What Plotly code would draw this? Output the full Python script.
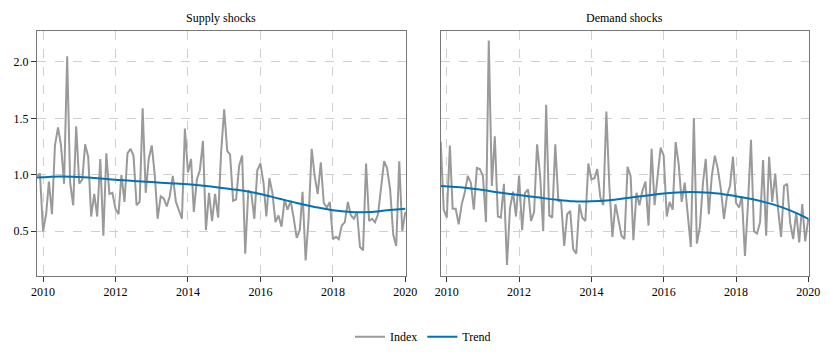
import pandas as pd
import plotly.graph_objects as go
from plotly.subplots import make_subplots

# monthly index, Nov 2009 - Jan 2020
months = pd.date_range("2009-11-01", periods=123, freq="MS")

supply_index = [
    0.99, 1.01, 0.50, 0.65, 0.94, 0.65, 1.26, 1.42, 1.26, 0.92,
    2.05, 0.93, 0.73, 1.43, 0.92, 0.96, 1.27, 1.16, 0.63, 0.83,
    0.63, 1.14, 0.46, 1.19, 0.83, 0.84, 0.70, 0.65, 1.00, 0.76,
    1.19, 1.23, 1.17, 0.73, 0.76, 1.59, 0.84, 1.14, 1.26, 0.99,
    0.61, 0.81, 0.79, 0.72, 0.81, 0.99, 0.76, 0.69, 0.61, 1.41,
    1.02, 1.14, 0.67, 0.96, 1.04, 1.30, 0.51, 0.84, 0.59, 0.83,
    0.62, 1.20, 1.58, 1.21, 1.18, 0.77, 0.78, 1.08, 1.17, 0.30,
    0.86, 0.84, 0.61, 1.04, 1.10, 0.93, 0.63, 0.97, 0.84, 0.58,
    0.64, 0.54, 0.78, 0.69, 0.77, 0.62, 0.44, 0.51, 0.85, 0.24,
    0.61, 1.23, 0.99, 0.83, 1.11, 0.75, 0.71, 0.76, 0.43, 0.45,
    0.43, 0.55, 0.58, 0.76, 0.64, 0.61, 0.67, 0.36, 0.33, 1.10,
    0.59, 0.61, 0.58, 0.65, 0.87, 1.12, 1.06, 0.87, 0.47, 0.37,
    1.12, 0.50, 0.67,
]

demand_index = [
    1.29, 0.69, 0.62, 1.26, 0.70, 0.70, 0.56, 0.74, 0.84, 0.99,
    0.93, 0.69, 1.06, 1.05, 0.99, 0.58, 2.19, 0.90, 1.34, 0.63,
    0.62, 0.92, 0.20, 0.70, 0.85, 0.63, 0.99, 0.51, 0.84, 0.87,
    0.59, 0.67, 1.27, 0.99, 0.50, 1.62, 0.64, 0.62, 1.27, 0.77,
    0.76, 0.37, 0.65, 0.68, 0.34, 0.30, 0.74, 0.62, 0.59, 1.10,
    0.96, 0.97, 1.05, 0.80, 0.73, 1.56, 0.90, 0.45, 0.74, 0.61,
    0.46, 0.43, 1.07, 0.99, 0.42, 0.84, 0.73, 0.86, 0.94, 0.55,
    1.23, 0.73, 0.97, 1.24, 1.17, 0.63, 0.76, 0.69, 1.29, 1.09,
    0.76, 0.93, 0.64, 0.36, 1.50, 0.39, 0.54, 0.93, 1.14, 0.65,
    0.99, 1.17, 1.05, 0.87, 0.61, 0.81, 0.90, 1.16, 0.75, 0.71,
    0.81, 0.28, 0.73, 1.31, 0.50, 0.48, 0.58, 1.13, 0.46, 1.16,
    0.76, 1.01, 0.70, 0.45, 0.90, 0.92, 0.58, 0.43, 0.67, 0.40,
    0.74, 0.41, 0.61,
]

# smooth trend, read every half year
trend_dates = ["2009-11-01", "2010-07-01", "2011-01-01", "2011-07-01", "2012-01-01",
               "2012-07-01", "2013-01-01", "2013-07-01", "2014-01-01", "2014-07-01",
               "2015-01-01", "2015-07-01", "2016-01-01", "2016-07-01", "2017-01-01",
               "2017-07-01", "2018-01-01", "2018-07-01", "2019-01-01", "2019-07-01",
               "2020-01-01"]
supply_trend = [0.975, 0.985, 0.98, 0.97, 0.955, 0.945, 0.935, 0.925, 0.915, 0.90,
                0.88, 0.86, 0.83, 0.79, 0.75, 0.715, 0.685, 0.67, 0.67, 0.685, 0.70]
demand_trend = [0.90, 0.885, 0.865, 0.84, 0.82, 0.80, 0.78, 0.765, 0.765, 0.775,
                0.795, 0.815, 0.835, 0.845, 0.845, 0.835, 0.81, 0.78, 0.74, 0.685, 0.61]

titles = ["Supply shocks", "Demand shocks"]
gray = "#9a9a9a"
blue = "#0173b2"
font = "Times New Roman"

fig = make_subplots(rows=1, cols=2, shared_yaxes=True, subplot_titles=titles,
                    horizontal_spacing=0.045)

for i, (idx, tr) in enumerate([(supply_index, supply_trend), (demand_index, demand_trend)]):
    fig.add_trace(go.Scatter(x=months, y=idx, mode="lines", name="Index",
                             line=dict(color=gray, width=2), showlegend=(i == 0),
                             legendgroup="idx"), row=1, col=i + 1)
    fig.add_trace(go.Scatter(x=pd.to_datetime(trend_dates), y=tr, mode="lines", name="Trend",
                             line=dict(color=blue, width=2, shape="spline", smoothing=1.0),
                             showlegend=(i == 0), legendgroup="tr"), row=1, col=i + 1)

axis_style = dict(showline=True, mirror=True, linecolor="#777777", linewidth=1,
                  showgrid=True, gridcolor="#d0d0d0", griddash="dash", gridwidth=1,
                  ticks="outside", ticklen=5, tickcolor="#333333", zeroline=False,
                  automargin=False,
                  tickfont=dict(size=12, color="black", family=font))

fig.update_xaxes(**axis_style, range=["2009-11-01", "2020-01-08"],
                 tick0="2010-01-01", dtick="M24", tickformat="%Y")
fig.update_yaxes(**axis_style, range=[0.103, 2.274], tickvals=[0.5, 1.0, 1.5, 2.0],
                 tickformat=".1f")
fig.update_yaxes(showticklabels=False, ticks="", row=1, col=2)
# the page has an 8px body margin, so the figure is 823x354 starting at (8, 8)
fig.update_layout(xaxis=dict(domain=[0, 0.478]), xaxis2=dict(domain=[0.523, 1]))

for ann in fig.layout.annotations:
    ann.font = dict(size=12, color="black", family=font)
    ann.yshift = 4

fig.update_layout(
    width=823, height=354,
    margin=dict(l=29, r=22, t=23, b=85),
    plot_bgcolor="white", paper_bgcolor="white",
    font=dict(family=font, size=12, color="black"),
    legend=dict(orientation="h", x=0.5, xanchor="center", y=-0.243, yanchor="middle",
                font=dict(size=12, family=font)),
)

fig.write_html("out.html")
